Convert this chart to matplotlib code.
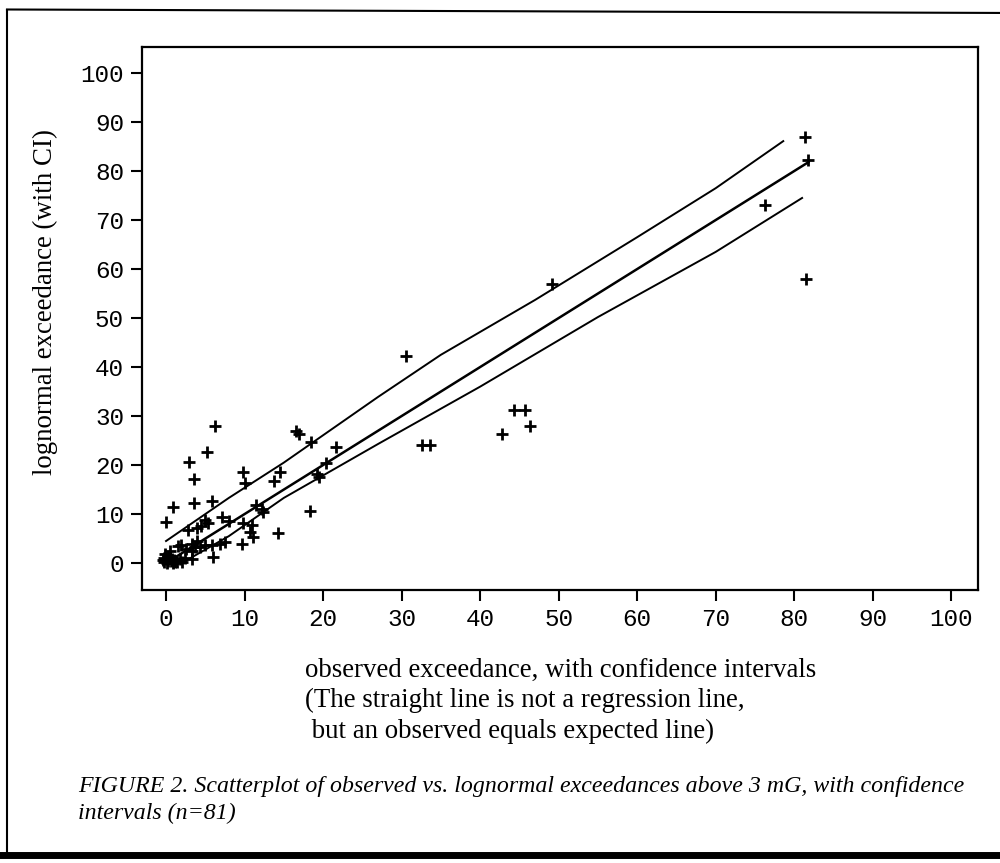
import numpy as np
import matplotlib.pyplot as plt
from matplotlib.lines import Line2D

# observed vs lognormal exceedance (n=81)
obs = [81.4, 81.8, 76.3, 81.5, 49.2, 30.6, 44.3, 45.7, 42.8, 46.4,
       32.6, 33.6, 16.6, 16.9, 18.5, 21.7, 20.4, 19.2, 19.5, 18.3,
       14.5, 13.7, 9.8, 10.1, 6.2, 5.2, 2.9, 3.6, 0.9, 0.0,
       3.6, 5.9, 2.8, 3.9, 5.0, 5.4, 4.5, 7.1, 9.8, 11.0,
       10.7, 11.1, 11.5, 12.4, 14.3, 9.7, 6.9, 5.9, 5.0, 4.3,
       3.7, 3.3, 3.3, 1.9, 2.5, 6.0, 3.3, 2.0, 1.4, -0.3,
       0.0, 0.3, 0.6, -0.2, 0.9, 0.1, 0.5, -0.4, 1.0, 0.2,
       0.7, 1.2, -0.1, 1.5, 2.4, 4.0, 7.5, 0.5, 8.0, 1.8, 12.2]
lognorm = [86.9, 82.2, 73.1, 58.0, 56.9, 42.2, 31.2, 31.2, 26.3, 28.0,
           24.0, 24.0, 26.9, 26.4, 24.8, 23.7, 20.4, 18.1, 17.6, 10.7,
           18.6, 16.7, 18.6, 16.3, 28.0, 22.7, 20.6, 17.1, 11.4, 8.4,
           12.2, 12.7, 6.7, 7.1, 8.8, 8.2, 7.5, 9.4, 8.2, 7.8,
           6.3, 5.3, 11.8, 10.4, 6.1, 3.9, 3.9, 3.7, 3.7, 3.3,
           3.3, 3.9, 2.4, 3.7, 2.9, 1.2, 0.8, 0.2, 0.2, 0.2,
           0.8, 1.2, 0.4, 1.0, 0.1, 0.0, 1.5, 0.6, 0.6, 0.5,
           0.9, 0.3, 1.8, 3.5, 1.0, 4.5, 4.2, 2.5, 8.5, 0.9, 11.0]

# confidence interval curves
upper_x = [0, 8, 15, 27, 35, 47, 60, 70, 78.6]
upper_y = [4.5, 13.3, 20.5, 33.9, 42.5, 53.7, 66.5, 76.5, 86.1]
lower_x = [2, 8, 15, 27, 40, 55, 70, 81]
lower_y = [0, 5.5, 13.3, 24.3, 36, 50.2, 63.5, 74.5]
ident = [0.5, 81.8]

ticks = list(range(0, 101, 10))

fig = plt.figure(figsize=(10, 8.63), dpi=100)
ax = fig.add_axes([0.142, 0.3163, 0.836, 0.6292])

ax.plot(upper_x, upper_y, color='black', lw=1.4)
ax.plot(lower_x, lower_y, color='black', lw=1.4)
ax.plot(ident, ident, color='black', lw=1.8)
ax.plot(obs, lognorm, ls='none', marker='+', ms=8, mew=2, color='black')

ax.set_xlim(-3.06, 103.4)
ax.set_ylim(-5.5, 105.3)
ax.set_xticks(ticks)
ax.set_yticks(ticks)
for s in ax.spines.values():
    s.set_linewidth(1.6)
ax.tick_params(direction='out', length=8, width=1.5, pad=5)
for lab in ax.get_xticklabels() + ax.get_yticklabels():
    lab.set_family('Liberation Mono')
    lab.set_fontsize(17.5)

serif = 'Liberation Serif'
fig.text(0.045, 0.65, 'lognormal exceedance (with CI)', rotation=90,
         ha='center', va='center', family=serif, fontsize=19.4)
fig.text(0.305, 0.238, 'observed exceedance, with confidence intervals\n'
         '(The straight line is not a regression line,\n'
         ' but an observed equals expected line)',
         ha='left', va='top', family=serif, fontsize=19.4, linespacing=1.3)
fig.text(0.078, 0.101, 'FIGURE 2. Scatterplot of observed vs. lognormal exceedances above 3 mG, with confidence\n'
         'intervals (n=81)', ha='left', va='top', family=serif, style='italic',
         fontsize=17.2, linespacing=1.38)

# page frame around the figure
fig.add_artist(Line2D([0.007, 0.007], [0.009, 0.988], color='black', lw=1.5,
                      transform=fig.transFigure))
fig.add_artist(Line2D([0.007, 1.0], [0.989, 0.985], color='black', lw=1.5,
                      transform=fig.transFigure))
fig.add_artist(Line2D([0.0, 1.0], [0.009, 0.009], color='black', lw=5,
                      transform=fig.transFigure))

fig.savefig('out.png', dpi=100)
